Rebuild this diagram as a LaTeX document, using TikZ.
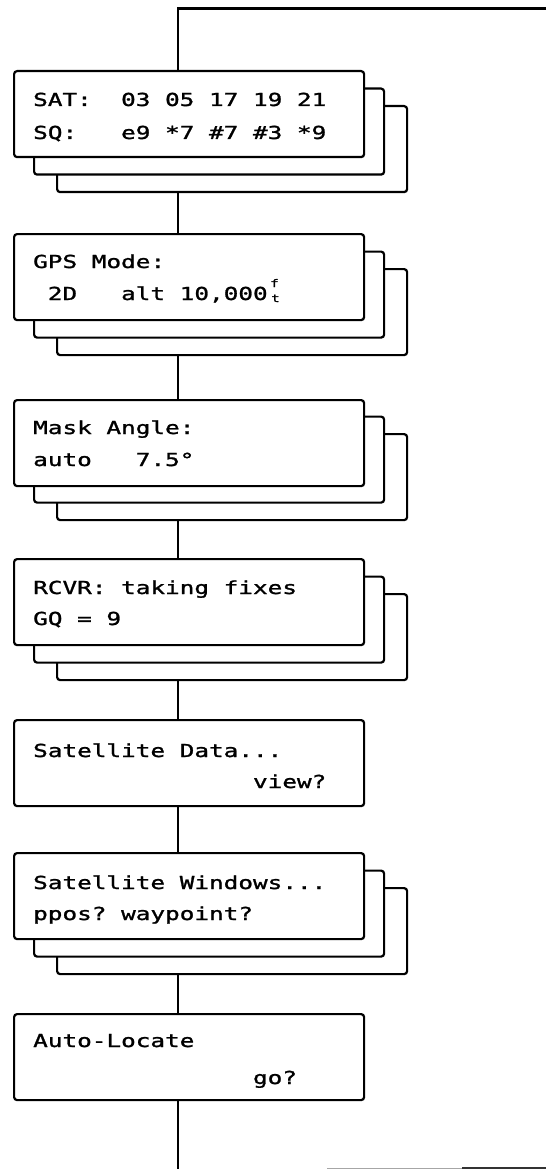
\documentclass[tikz,border=0pt]{standalone}
\usepackage{fontspec}
\newfontfamily\lcdfont[FakeStretch=1.36,FakeBold=1.4]{DejaVu Sans Mono}
\newcommand\lcdsize{\fontsize{17.9pt}{20pt}\selectfont}
\newcommand\lsp{\hphantom{0}}
\begin{document}
\begin{tikzpicture}[x=1pt,y=-1pt,
  panel/.style={draw=black, line width=2.2pt, rounded corners=3pt, fill=white,
    inner sep=0pt, anchor=north west, minimum width=350pt, minimum height=86pt},
  lcd/.style={anchor=base west, inner sep=0pt, font=\lcdfont\lcdsize},
  tiny/.style={anchor=base west, inner sep=0pt, font=\lcdfont\fontsize{10.5pt}{11pt}\selectfont},
  wire/.style={draw=black, line width=2.2pt}]
\useasboundingbox (0,0) rectangle (546,1169);

\coordinate (corner) at (178,8.5);
\coordinate (topend) at (546,8.5);
\coordinate (bottomend) at (178,1169);
\coordinate (g1) at (327,1168);
\coordinate (g3) at (462,1168);
\coordinate (g2) at (546,1168);

% box 1
\node[panel] (b1c) at (56,105) {};
\node[panel] (b1b) at (33,87.5) {};
\node[panel] (b1)  at (13,70) {};
\node[lcd] (t1a) at (33,106) {SAT:\lsp\lsp03\lsp05\lsp17\lsp19\lsp21};
\node[lcd] (t1b) at (33,139) {SQ:\lsp\lsp\lsp e9\lsp*7\lsp\#7\lsp\#3\lsp*9};

% box 2
\node[panel] (b2c) at (56,268) {};
\node[panel] (b2b) at (33,250.5) {};
\node[panel] (b2)  at (13,233) {};
\node[lcd] (t2a) at (33,268) {GPS\lsp Mode:};
\node[lcd] (t2b) at (33,300) {\lsp 2D\lsp\lsp\lsp alt\lsp 10,000};
\node[tiny] (t2f) at (270,287) {f};
\node[tiny] (t2t) at (271,302) {t};

% box 3
\node[panel] (b3c) at (56,433) {};
\node[panel] (b3b) at (33,415.5) {};
\node[panel] (b3)  at (13,399) {};
\node[lcd] (t3a) at (33,434) {Mask\lsp Angle:};
\node[lcd] (t3b) at (33,466) {auto\lsp\lsp\lsp 7.5°};

% box 4
\node[panel] (b4c) at (56,593) {};
\node[panel] (b4b) at (33,575.5) {};
\node[panel] (b4)  at (13,558) {};
\node[lcd] (t4a) at (33,594) {RCVR:\lsp taking\lsp fixes};
\node[lcd] (t4b) at (33,625) {GQ\lsp=\lsp9};

% box 5
\node[panel] (b5)  at (13,719) {};
\node[lcd] (t5a) at (33,757) {Satellite\lsp Data...};
\node[lcd] (t5b) at (33,788) {\lsp\lsp\lsp\lsp\lsp\lsp\lsp\lsp\lsp\lsp\lsp\lsp\lsp\lsp\lsp view?};

% box 6
\node[panel] (b6c) at (56,887) {};
\node[panel] (b6b) at (33,869.5) {};
\node[panel] (b6)  at (13,852) {};
\node[lcd] (t6a) at (33,889) {Satellite\lsp Windows...};
\node[lcd] (t6b) at (33,920) {ppos?\lsp waypoint?};

% box 7
\node[panel] (b7)  at (13,1013) {};
\node[lcd] (t7a) at (33,1047) {Auto-Locate};
\node[lcd] (t7b) at (33,1084) {\lsp\lsp\lsp\lsp\lsp\lsp\lsp\lsp\lsp\lsp\lsp\lsp\lsp\lsp\lsp go?};

% connectors
\draw[wire] (topend) -- (corner) -- (corner |- b1.north);
\draw[wire] (b1c.south -| corner) -- (b2.north -| corner);
\draw[wire] (b2c.south -| corner) -- (b3.north -| corner);
\draw[wire] (b3c.south -| corner) -- (b4.north -| corner);
\draw[wire] (b4c.south -| corner) -- (b5.north -| corner);
\draw[wire] (b5.south -| corner) -- (b6.north -| corner);
\draw[wire] (b6c.south -| corner) -- (b7.north -| corner);
\draw[wire] (b7.south -| corner) -- (bottomend);
\draw[black!35, line width=1pt] (g1) -- (g3);
\draw[black!80, line width=1.4pt] (g3) -- (g2);
\end{tikzpicture}
\end{document}
